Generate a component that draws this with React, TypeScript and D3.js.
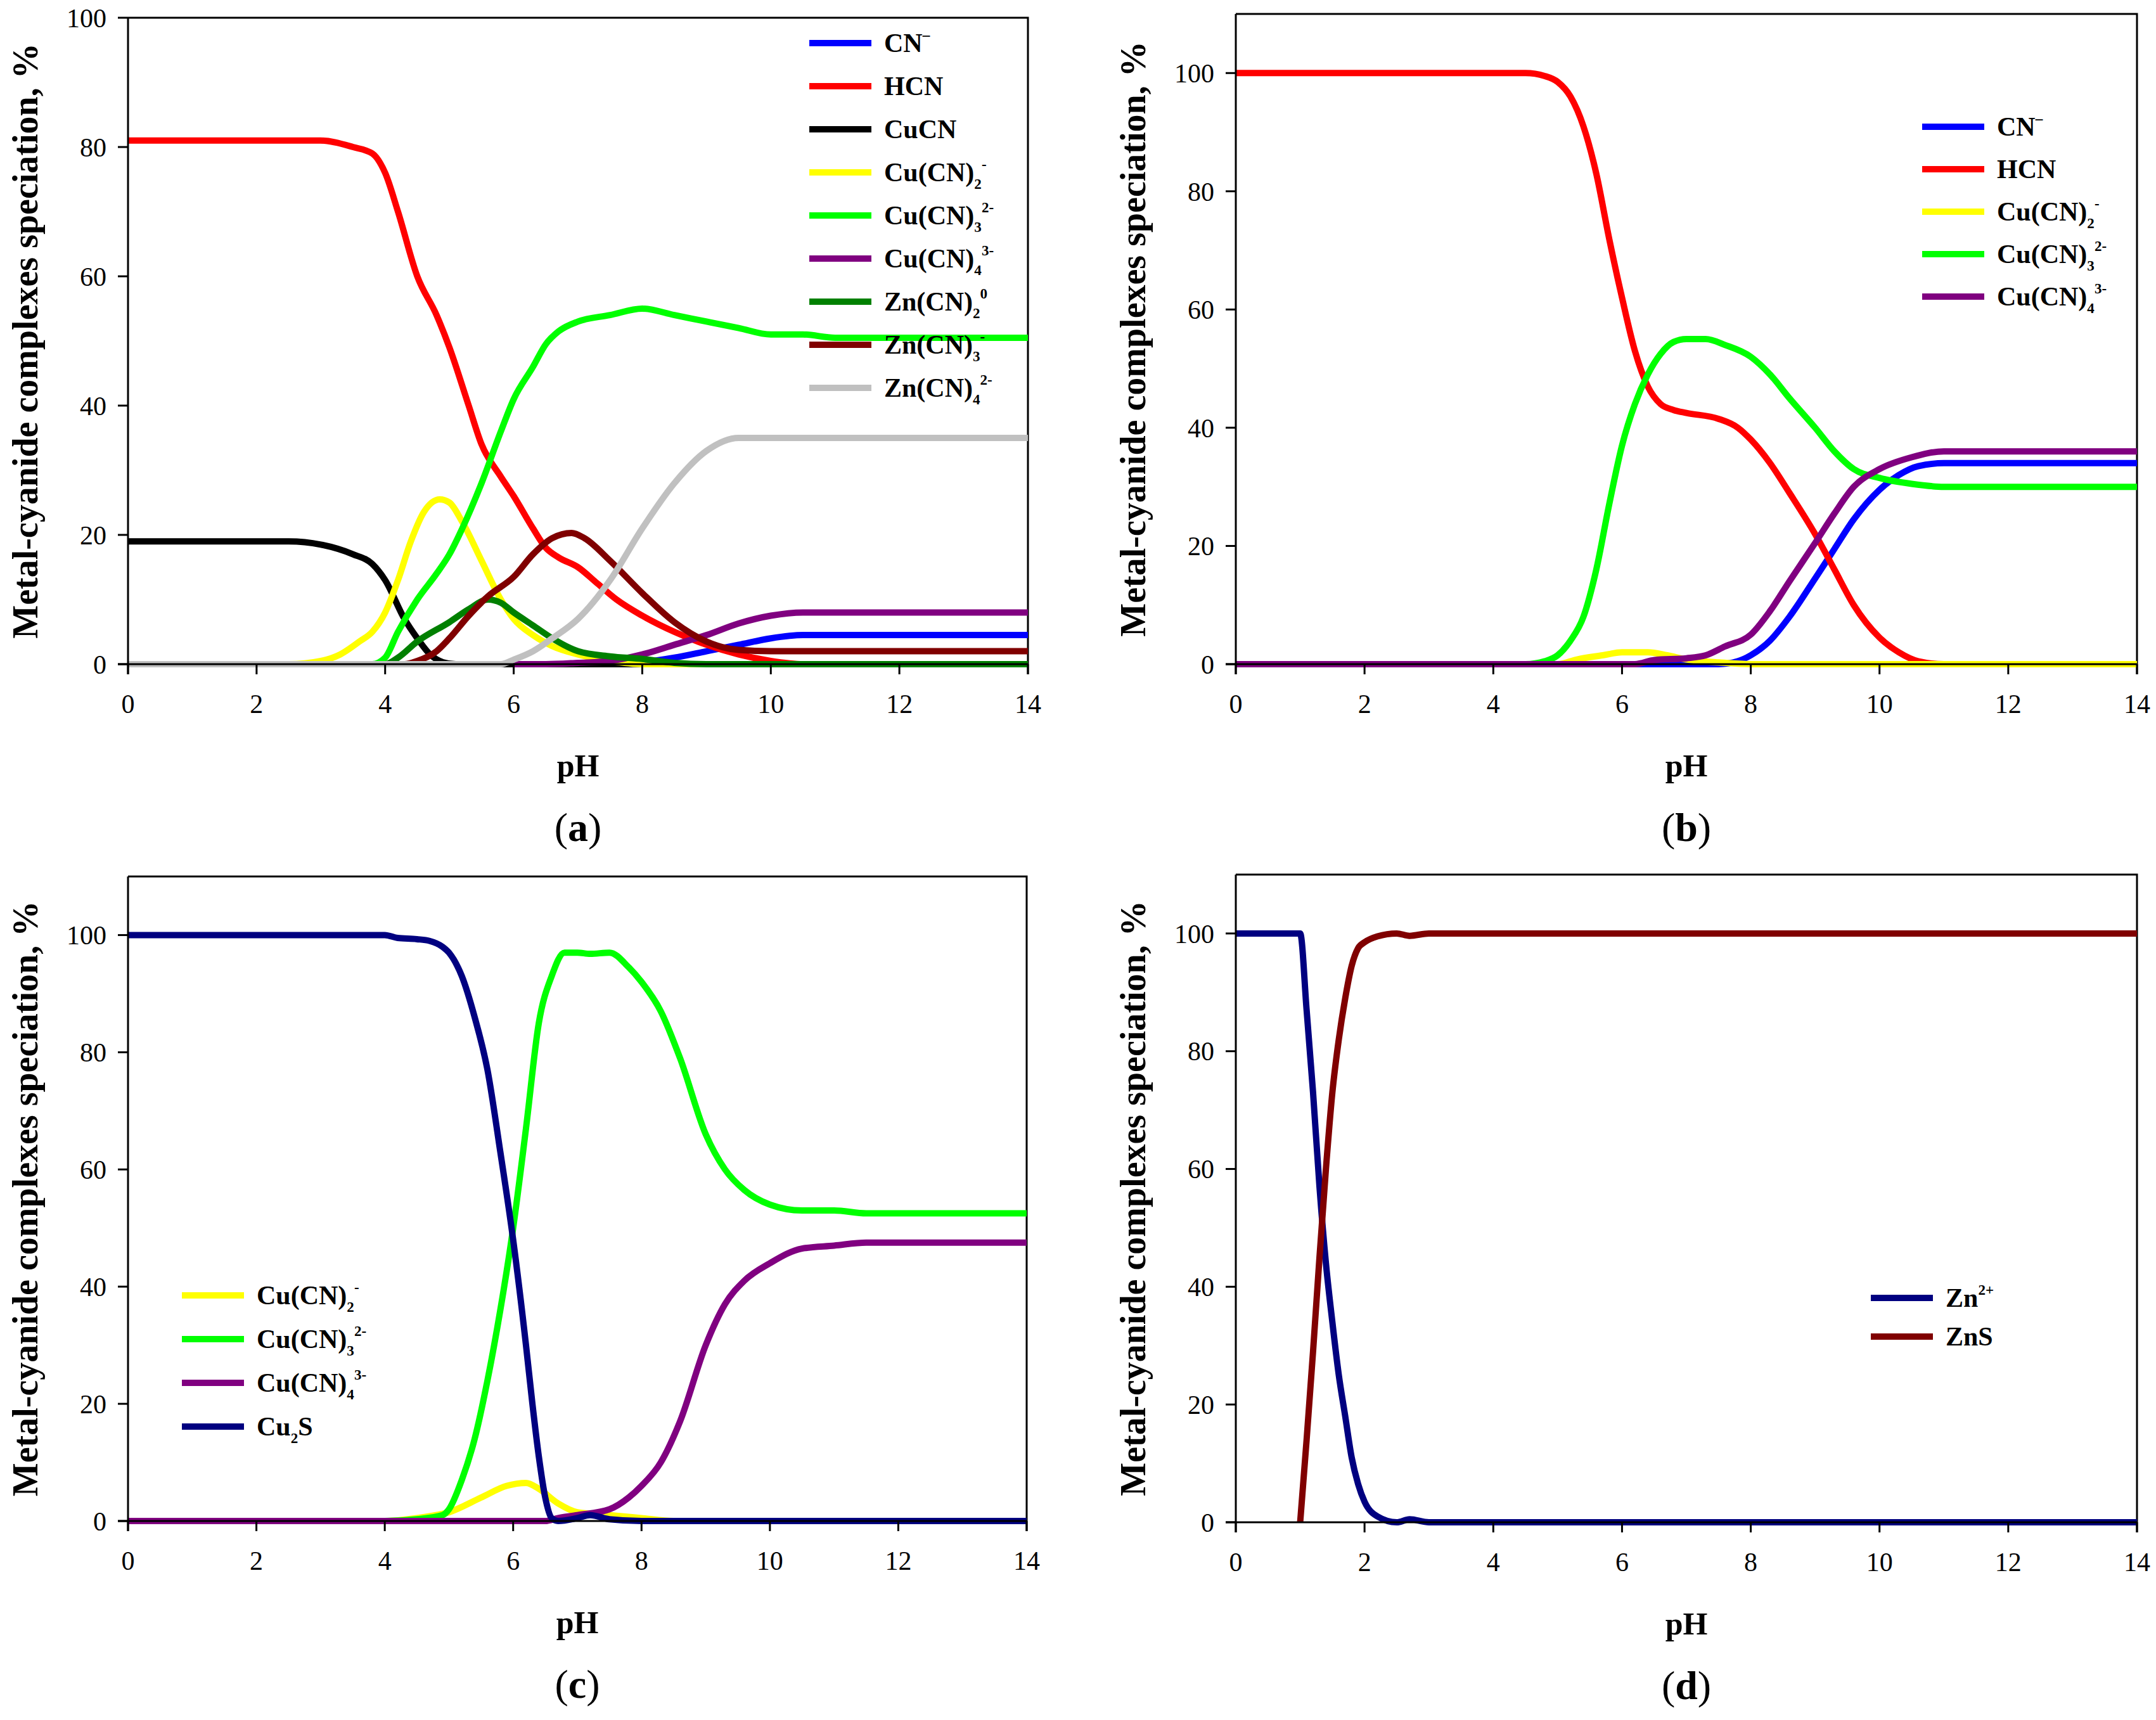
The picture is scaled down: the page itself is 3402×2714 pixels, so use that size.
import React from "react";
import * as d3 from "d3";

type Pt = [number, number];

// ---- panel (a) : Cu + Zn cyanide system ----
const aCN: Pt[] = [[0, 0], [7.5, 0], [8, 0.3], [8.5, 1], [9, 2], [9.5, 3], [10, 4], [10.5, 4.5], [11, 4.5], [14, 4.5]];
const aHCN: Pt[] = [[0, 81], [1, 81], [2, 81], [3, 81], [3.5, 80], [3.8, 79], [4, 76], [4.2, 70], [4.5, 60], [4.8, 54], [5, 49], [5.3, 40], [5.5, 34], [5.8, 29], [6, 26], [6.3, 21], [6.5, 18], [6.7, 16.5], [7, 15], [7.3, 12.5], [7.6, 10], [8, 7.5], [8.5, 5], [9, 3], [9.5, 1.5], [10, 0.5], [10.5, 0], [14, 0]];
const aCuCN: Pt[] = [[0, 19], [2, 19], [2.5, 19], [3, 18.5], [3.5, 17], [3.8, 15.5], [4, 13], [4.3, 7], [4.5, 4], [4.7, 1.5], [4.9, 0.3], [5.1, 0], [9, 0]];
const aCu2: Pt[] = [[0, 0], [2.5, 0], [3, 0.5], [3.3, 1.5], [3.6, 3.5], [3.8, 5], [4, 8], [4.2, 13], [4.4, 19], [4.6, 23.5], [4.85, 25.5], [5, 25], [5.2, 22], [5.5, 16], [5.8, 10], [6, 7], [6.3, 4.5], [6.6, 2.8], [7, 1.5], [7.5, 0.5], [8, 0], [14, 0]];
const aCu3: Pt[] = [[0, 0], [3.8, 0], [4, 1], [4.2, 5], [4.5, 10], [4.8, 14], [5, 17], [5.2, 21], [5.5, 28], [5.8, 36], [6, 41], [6.3, 46], [6.5, 49.5], [6.7, 51.5], [7, 53], [7.5, 54], [8, 55], [8.5, 54], [9, 53], [9.5, 52], [10, 51], [10.5, 51], [11, 50.5], [12, 50.5], [14, 50.5]];
const aCu4: Pt[] = [[6, 0], [6.5, 0], [7, 0.2], [7.5, 0.5], [8, 1.5], [8.5, 3], [9, 4.5], [9.5, 6.3], [10, 7.5], [10.5, 8], [11, 8], [14, 8]];
const aZn2: Pt[] = [[0, 0], [4, 0], [4.2, 1], [4.5, 3.5], [5, 6.5], [5.3, 8.5], [5.6, 10], [5.8, 9.5], [6, 8], [6.3, 6], [6.6, 4], [7, 2], [7.5, 1.2], [8, 0.8], [8.5, 0.2], [9, 0], [14, 0]];
const aZn3: Pt[] = [[0, 0], [4.3, 0], [4.5, 0.5], [4.8, 2], [5, 4], [5.3, 7.5], [5.6, 10.5], [6, 13.5], [6.3, 17], [6.6, 19.5], [6.9, 20.3], [7.1, 19.5], [7.5, 16], [8, 11], [8.5, 6.5], [9, 3.5], [9.5, 2.2], [10, 2], [14, 2]];
const aZn4: Pt[] = [[0, 0], [5.8, 0], [6, 0.7], [6.3, 2], [6.6, 4], [7, 7], [7.5, 13], [8, 21], [8.5, 28], [9, 33], [9.5, 35], [10, 35], [14, 35]];

// ---- panel (b) : Cu cyanide system ----
const bCN: Pt[] = [[0, 0], [7.5, 0], [7.8, 0.5], [8, 1.5], [8.3, 4], [8.6, 8], [9, 14.5], [9.3, 19.5], [9.6, 24.5], [10, 29.5], [10.3, 32], [10.6, 33.5], [11, 34], [14, 34]];
const bHCN: Pt[] = [[0, 100], [4.5, 100], [4.8, 99.5], [5, 98.5], [5.2, 96], [5.4, 91], [5.6, 83], [5.8, 72], [6, 62], [6.2, 53], [6.4, 47], [6.6, 44], [6.8, 43], [7, 42.5], [7.5, 41.5], [7.8, 40], [8, 38], [8.3, 34], [8.6, 29], [9, 22], [9.3, 16], [9.6, 10], [10, 4.5], [10.3, 2], [10.6, 0.5], [11, 0], [14, 0]];
const bCu2: Pt[] = [[0, 0], [5, 0], [5.3, 0.8], [5.7, 1.5], [6, 2], [6.4, 2], [6.7, 1.5], [7, 0.8], [7.5, 0.3], [8, 0], [14, 0]];
const bCu3: Pt[] = [[0, 0], [4.5, 0], [4.8, 0.5], [5, 1.5], [5.2, 4], [5.4, 8], [5.6, 16], [5.8, 27], [6, 37], [6.2, 44], [6.4, 49], [6.6, 52.5], [6.8, 54.5], [7, 55], [7.3, 55], [7.6, 54], [8, 52], [8.3, 49], [8.6, 45], [9, 40], [9.3, 36], [9.6, 33], [10, 31.5], [10.5, 30.5], [11, 30], [14, 30]];
const bCu4: Pt[] = [[0, 0], [6.2, 0], [6.5, 0.7], [7, 1], [7.3, 1.5], [7.6, 3], [8, 5], [8.3, 9], [8.6, 14], [9, 20.5], [9.3, 25.5], [9.6, 30], [10, 33], [10.5, 35], [11, 36], [14, 36]];

// ---- panel (c) : Cu with sulfide ----
const cCu2: Pt[] = [[0, 0], [4, 0], [4.5, 0.5], [5, 1.5], [5.5, 4], [5.9, 6], [6.2, 6.5], [6.4, 5.5], [6.7, 3], [7, 1.5], [7.5, 1], [8, 0.5], [8.5, 0], [14, 0]];
const cCu3: Pt[] = [[0, 0], [4, 0], [4.5, 0.3], [4.9, 1], [5, 2], [5.2, 7], [5.4, 14], [5.6, 24], [5.8, 36], [6, 50], [6.2, 67], [6.4, 85], [6.6, 93], [6.8, 97], [7, 97], [7.2, 96.8], [7.5, 97], [7.8, 94.5], [8, 92], [8.3, 87], [8.6, 79], [9, 66], [9.3, 60], [9.6, 56.5], [10, 54], [10.5, 53], [11, 53], [11.5, 52.5], [12, 52.5], [14, 52.5]];
const cCu4: Pt[] = [[0, 0], [6.5, 0], [6.7, 0.5], [7, 1], [7.5, 2], [7.8, 4], [8, 6], [8.3, 10], [8.6, 17], [9, 30], [9.3, 37], [9.6, 41], [10, 44], [10.5, 46.5], [11, 47], [11.5, 47.5], [12, 47.5], [14, 47.5]];
const cCu2S: Pt[] = [[0, 100], [4, 100], [4.2, 99.5], [4.5, 99.3], [4.7, 99], [4.9, 98], [5, 97], [5.2, 93], [5.4, 86], [5.6, 77], [5.8, 63], [6, 48], [6.2, 30], [6.3, 20], [6.4, 11], [6.5, 4], [6.6, 0.5], [6.7, 0], [7, 0.5], [7.2, 1], [7.5, 0.3], [8, 0], [14, 0]];

// ---- panel (d) : Zn with sulfide ----
const dZn: Pt[] = [[0, 100], [1, 100], [1.1, 87], [1.2, 73], [1.3, 57], [1.4, 44], [1.5, 34], [1.6, 25], [1.7, 18], [1.8, 11], [1.9, 6.5], [2, 3.5], [2.2, 1], [2.5, 0], [2.7, 0.5], [3, 0], [14, 0]];
const dZnS: Pt[] = [[1, 0], [1.1, 14], [1.2, 29], [1.3, 45], [1.4, 60], [1.5, 73], [1.6, 82], [1.7, 89], [1.8, 94.5], [1.9, 97.5], [2, 98.5], [2.2, 99.5], [2.5, 100], [2.7, 99.6], [3, 100], [14, 100]];

const xTicks = [0, 2, 4, 6, 8, 10, 12, 14];
const yTicks = [0, 20, 40, 60, 80, 100];

const BLUE = "#0000FF", RED = "#FF0000", BLACK = "#000000", YELLOW = "#FFFF00", LIME = "#00FF00",
  PURPLE = "#800080", GREEN = "#008000", MAROON = "#800000", GRAY = "#C0C0C0", NAVY = "#000080";

type Series = { label: string; color: string; data: Pt[] };

const seriesA: Series[] = [
  { label: "CN^{–}", color: BLUE, data: aCN },
  { label: "HCN", color: RED, data: aHCN },
  { label: "CuCN", color: BLACK, data: aCuCN },
  { label: "Cu(CN)_{2}^{-}", color: YELLOW, data: aCu2 },
  { label: "Cu(CN)_{3}^{2-}", color: LIME, data: aCu3 },
  { label: "Cu(CN)_{4}^{3-}", color: PURPLE, data: aCu4 },
  { label: "Zn(CN)_{2}^{0}", color: GREEN, data: aZn2 },
  { label: "Zn(CN)_{3}^{-}", color: MAROON, data: aZn3 },
  { label: "Zn(CN)_{4}^{2-}", color: GRAY, data: aZn4 },
];
const seriesB: Series[] = [
  { label: "CN^{–}", color: BLUE, data: bCN },
  { label: "HCN", color: RED, data: bHCN },
  { label: "Cu(CN)_{2}^{-}", color: YELLOW, data: bCu2 },
  { label: "Cu(CN)_{3}^{2-}", color: LIME, data: bCu3 },
  { label: "Cu(CN)_{4}^{3-}", color: PURPLE, data: bCu4 },
];
const seriesC: Series[] = [
  { label: "Cu(CN)_{2}^{-}", color: YELLOW, data: cCu2 },
  { label: "Cu(CN)_{3}^{2-}", color: LIME, data: cCu3 },
  { label: "Cu(CN)_{4}^{3-}", color: PURPLE, data: cCu4 },
  { label: "Cu_{2}S", color: NAVY, data: cCu2S },
];
const seriesD: Series[] = [
  { label: "Zn^{2+}", color: NAVY, data: dZn },
  { label: "ZnS", color: MAROON, data: dZnS },
];

const FONT = "'Liberation Serif', 'DejaVu Serif', serif";

// split "Cu(CN)_{2}^{-}" into plain / sub / sup runs
function parseLabel(s: string) {
  const parts: { s: string; t: string }[] = [];
  const re = /([_^])\{([^}]*)\}|([^_^]+)/g;
  let m: RegExpExecArray | null;
  while ((m = re.exec(s))) {
    if (m[3]) parts.push({ s: m[3], t: "" });
    else parts.push({ s: m[2], t: m[1] === "_" ? "sub" : "sup" });
  }
  return parts;
}

function RichText({ x, y, label, size }: { x: number; y: number; label: string; size: number }) {
  let shift = 0;
  return (
    <text x={x} y={y} fontSize={size} fontWeight="bold" fontFamily={FONT}>
      {parseLabel(label).map((p, i) => {
        const target = p.t === "sub" ? size * 0.28 : p.t === "sup" ? -size * 0.45 : 0;
        const dy = target - shift;
        shift = target;
        return (
          <tspan key={i} dy={dy} fontSize={p.t ? size * 0.55 : size}>
            {p.s}
          </tspan>
        );
      })}
    </text>
  );
}

type PanelProps = {
  series: Series[];
  x0: number; x1: number; yTop: number; yBot: number;
  yMax: number;
  legX: number; legY: number; legStep: number;
  letter: string;
};

function Panel({ series, x0, x1, yTop, yBot, yMax, legX, legY, legStep, letter }: PanelProps) {
  const x = d3.scaleLinear().domain([0, 14]).range([x0, x1]);
  const y = d3.scaleLinear().domain([0, yMax]).range([yBot, yTop]);
  const line = d3.line<Pt>().x((d) => x(d[0])).y((d) => y(d[1])).curve(d3.curveMonotoneX);
  const cx = (x0 + x1) / 2;
  const cy = (yTop + yBot) / 2;
  return (
    <g>
      {/* frame: top + right */}
      <path d={`M${x0},${yTop}H${x1}V${yBot + 16}`} fill="none" stroke="#000" strokeWidth={3} />
      {series.map((s) => (
        <path key={s.label} d={line(s.data) || ""} fill="none" stroke={s.color} strokeWidth={10} strokeLinejoin="round" />
      ))}
      {/* left axis */}
      <line x1={x0} x2={x0} y1={yTop} y2={yBot + 16} stroke="#000" strokeWidth={3} />
      {yTicks.map((t) => (
        <g key={t}>
          <line x1={x0 - 16} x2={x0} y1={y(t)} y2={y(t)} stroke="#000" strokeWidth={3} />
          <text x={x0 - 34} y={y(t)} dy="0.35em" textAnchor="end" fontSize={42} fontFamily={FONT}>{t}</text>
        </g>
      ))}
      {/* bottom axis */}
      <line x1={x0 - 16} x2={x1} y1={yBot} y2={yBot} stroke="#000" strokeWidth={3} />
      {xTicks.map((t) => (
        <g key={t}>
          <line x1={x(t)} x2={x(t)} y1={yBot} y2={yBot + 16} stroke="#000" strokeWidth={3} />
          <text x={x(t)} y={yBot + 77} textAnchor="middle" fontSize={42} fontFamily={FONT}>{t}</text>
        </g>
      ))}
      <text x={cx} y={yBot + 177} textAnchor="middle" fontSize={50} fontWeight="bold" fontFamily={FONT}>pH</text>
      <text x={cx} y={yBot + 279} textAnchor="middle" fontSize={64} fontFamily={FONT}>
        (<tspan fontWeight="bold">{letter}</tspan>)
      </text>
      <text
        transform={`translate(${x0 - 143},${cy}) rotate(-90)`}
        textAnchor="middle"
        fontSize={56}
        fontWeight="bold"
        fontFamily={FONT}
      >
        Metal-cyanide complexes speciation, %
      </text>
      {/* legend */}
      {series.map((s, i) => (
        <g key={"leg" + s.label}>
          <line x1={legX} x2={legX + 98} y1={legY + i * legStep} y2={legY + i * legStep} stroke={s.color} strokeWidth={10} />
          <RichText x={legX + 118} y={legY + i * legStep + 14} label={s.label} size={42} />
        </g>
      ))}
    </g>
  );
}

export default function App() {
  return (
    <svg
      width={3402}
      height={2714}
      style={{ position: "absolute", left: 0, top: 0, background: "#fff" }}
    >
      <rect width={3402} height={2714} fill="#fff" />
      <Panel series={seriesA} x0={202} x1={1622} yTop={28} yBot={1048} yMax={100} legX={1277} legY={68} legStep={68} letter="a" />
      <Panel series={seriesB} x0={1950} x1={3372} yTop={22} yBot={1048} yMax={110} legX={3033} legY={200} legStep={67} letter="b" />
      <Panel series={seriesC} x0={202} x1={1620} yTop={1383} yBot={2400} yMax={110} legX={287} legY={2044} legStep={69} letter="c" />
      <Panel series={seriesD} x0={1950} x1={3372} yTop={1380} yBot={2402} yMax={110} legX={2952} legY={2048} legStep={61} letter="d" />
    </svg>
  );
}
